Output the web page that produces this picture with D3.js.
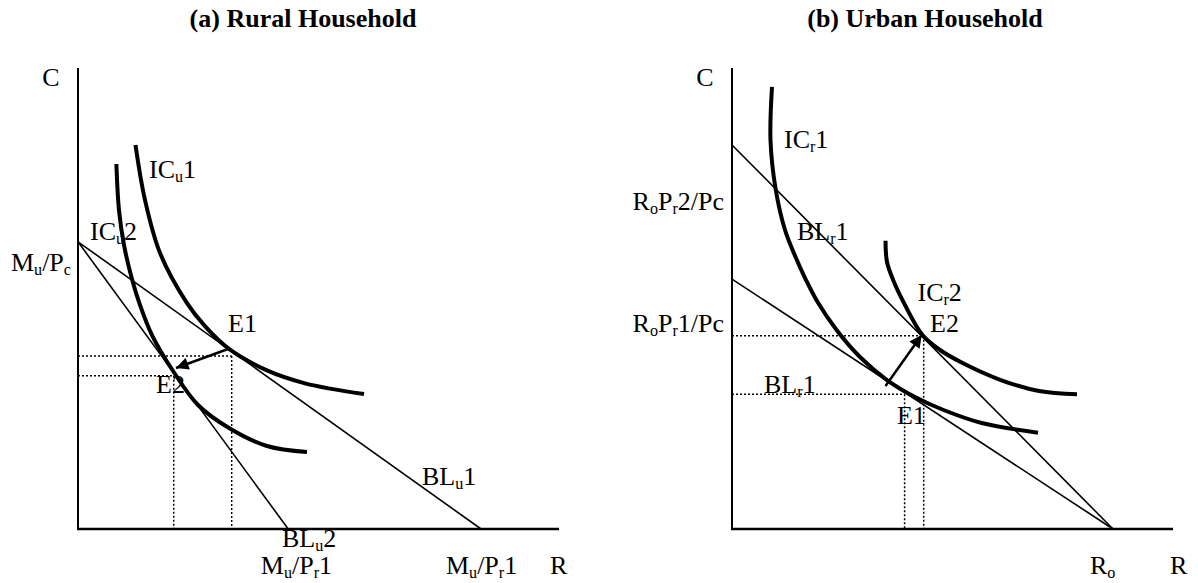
<!DOCTYPE html>
<html>
<head>
<meta charset="utf-8">
<script src="https://cdn.jsdelivr.net/npm/d3@7"></script>
<style>
  html, body { margin: 0; padding: 0; background: #fff; }
  svg text { font-family: "Liberation Serif", "Times New Roman", serif; fill: #000; }
</style>
</head>
<body>
<svg id="chart" width="1198" height="583"></svg>
<script>
// ---------------- DATA (data units, both axes 0..10) ----------------
const panelTitles = ["(a) Rural Household", "(b) Urban Household"];

// Panel (a): budget lines (C-intercept, R-intercept)
const ruralBudgetLines = [
  { name: "BLu1", c0: 6.23, r0: 8.38 },
  { name: "BLu2", c0: 6.23, r0: 4.37 }
];
// Panel (a): indifference curves
const ruralIC1 = [[1.195,8.33],[1.393,7.137],[1.705,5.987],[2.266,4.90],[2.640,4.40],[3.139,3.905],[3.929,3.44],[4.719,3.16],[5.946,2.928]];
const ruralIC2 = [[0.798,7.918],[0.852,6.920],[0.956,6.161],[1.116,5.445],[1.289,4.859],[1.538,4.208],[1.990,3.406],[2.495,2.690],[3.139,2.191],[3.929,1.800],[4.761,1.670]];
// Panel (a): equilibrium points (for dotted guides) and shift arrow
const ruralEquilibria = [[3.195,3.753],[1.990,3.325]];
const ruralArrow = [[3.119,3.905],[2.037,3.492]];

// Panel (b)
const urbanBudgetLines = [
  { name: "BLr2", c0: 8.33, r0: 8.64 },
  { name: "BLr1", c0: 5.42, r0: 8.64 }
];
const urbanIC1 = [[0.907,9.588],[0.873,8.438],[0.989,7.375],[1.202,6.486],[1.451,5.879],[1.678,5.401],[1.941,4.924],[2.372,4.317],[2.902,3.731],[3.515,3.232],[4.150,2.863],[4.796,2.581],[5.662,2.299],[6.939,2.089]];
const urbanIC2 = [[3.481,6.254],[3.515,5.792],[3.673,5.358],[3.923,4.859],[4.320,4.208],[4.717,3.883],[5.229,3.601],[6.095,3.232],[6.961,2.993],[7.823,2.922]];
const urbanEquilibria = [[4.347,4.193],[3.914,2.922]];
const urbanArrow = [[3.481,3.102],[4.302,4.208]];

// Text labels: parts [text, isSub], anchor, position in data units
const ruralLabels = [
  { parts: [["C",0]], at: [-0.561, 9.61], anchor: "middle" },
  { parts: [["M",0],["u",1],["/P",0],["c",1]], at: [-0.146, 5.597], anchor: "end" },
  { parts: [["IC",0],["u",1],["1",0]], at: [1.476, 7.614], anchor: "start" },
  { parts: [["IC",0],["u",1],["2",0]], at: [0.249, 6.269], anchor: "start" },
  { parts: [["E1",0]], at: [3.119, 4.273], anchor: "start" },
  { parts: [["E2",0]], at: [1.622, 2.950], anchor: "start" },
  { parts: [["BL",0],["u",1],["1",0]], at: [7.152, 0.954], anchor: "start" },
  { parts: [["BL",0],["u",1],["2",0]], at: [4.241, -0.39], anchor: "start" },
  { parts: [["M",0],["u",1],["/P",0],["r",1],["1",0]], at: [3.80, -0.98], anchor: "start" },
  { parts: [["M",0],["u",1],["/P",0],["r",1],["1",0]], at: [7.65, -0.98], anchor: "start" },
  { parts: [["R",0]], at: [9.813, -0.98], anchor: "start" }
];
const urbanLabels = [
  { parts: [["C",0]], at: [-0.612, 9.61], anchor: "middle" },
  { parts: [["R",0],["o",1],["P",0],["r",1],["2/Pc",0]], at: [-0.181, 6.920], anchor: "end" },
  { parts: [["R",0],["o",1],["P",0],["r",1],["1/Pc",0]], at: [-0.181, 4.273], anchor: "end" },
  { parts: [["IC",0],["r",1],["1",0]], at: [1.179, 8.265], anchor: "start" },
  { parts: [["BL",0],["r",1],["1",0]], at: [1.474, 6.269], anchor: "start" },
  { parts: [["IC",0],["r",1],["2",0]], at: [4.206, 4.946], anchor: "start" },
  { parts: [["E2",0]], at: [4.490, 4.273], anchor: "start" },
  { parts: [["BL",0],["r",1],["1",0]], at: [0.726, 2.950], anchor: "start" },
  { parts: [["E1",0]], at: [3.741, 2.278], anchor: "start" },
  { parts: [["R",0],["o",1]], at: [8.118, -0.98], anchor: "start" },
  { parts: [["R",0]], at: [9.932, -0.98], anchor: "start" }
];

// ---------------- DRAWING ----------------
const svg = d3.select("#chart");
const FONT = 26;
const SUB_DY = 4;

svg.append("defs").append("marker")
  .attr("id", "arrowhead")
  .attr("viewBox", "0 0 10 10")
  .attr("refX", 10).attr("refY", 5)
  .attr("markerWidth", 6.5).attr("markerHeight", 5)
  .attr("markerUnits", "strokeWidth")
  .attr("orient", "auto")
  .append("path").attr("d", "M0,0 L10,5 L0,10 z").attr("fill", "#000");

const panels = [
  { title: panelTitles[0], titleX: 303, xr: [78, 559], yr: [529, 68],
    budgets: ruralBudgetLines, ics: [ruralIC1, ruralIC2], eq: ruralEquilibria, arrow: ruralArrow, labels: ruralLabels },
  { title: panelTitles[1], titleX: 925, xr: [732, 1173], yr: [529, 68],
    budgets: urbanBudgetLines, ics: [urbanIC1, urbanIC2], eq: urbanEquilibria, arrow: urbanArrow, labels: urbanLabels }
];

panels.forEach(p => {
  const x = d3.scaleLinear().domain([0, 10]).range(p.xr);
  const y = d3.scaleLinear().domain([0, 10]).range(p.yr);
  const g = svg.append("g");

  // title
  g.append("text").attr("x", p.titleX).attr("y", 27)
    .attr("text-anchor", "middle").attr("font-weight", "bold")
    .attr("font-size", 26).text(p.title);

  // axes
  g.append("line").attr("x1", x(0)).attr("y1", y(10)).attr("x2", x(0)).attr("y2", y(0))
    .attr("stroke", "#000").attr("stroke-width", 2);
  g.append("line").attr("x1", x(0) - 1).attr("y1", y(0)).attr("x2", x(10)).attr("y2", y(0))
    .attr("stroke", "#000").attr("stroke-width", 2.5);

  // dotted guides
  p.eq.forEach(([ex, ey]) => {
    g.append("line").attr("x1", x(0)).attr("y1", y(ey)).attr("x2", x(ex)).attr("y2", y(ey))
      .attr("stroke", "#000").attr("stroke-width", 1.5).attr("stroke-dasharray", "2,2");
    g.append("line").attr("x1", x(ex)).attr("y1", y(ey)).attr("x2", x(ex)).attr("y2", y(0))
      .attr("stroke", "#000").attr("stroke-width", 1.5).attr("stroke-dasharray", "2,2");
  });

  // budget lines
  p.budgets.forEach(b => {
    g.append("line").attr("x1", x(0)).attr("y1", y(b.c0)).attr("x2", x(b.r0)).attr("y2", y(0))
      .attr("stroke", "#000").attr("stroke-width", 1.6);
  });

  // indifference curves
  const line = d3.line().x(d => x(d[0])).y(d => y(d[1])).curve(d3.curveCatmullRom.alpha(0.5));
  p.ics.forEach(ic => {
    g.append("path").attr("d", line(ic)).attr("fill", "none")
      .attr("stroke", "#000").attr("stroke-width", 4).attr("stroke-linecap", "butt");
  });

  // arrow
  g.append("line")
    .attr("x1", x(p.arrow[0][0])).attr("y1", y(p.arrow[0][1]))
    .attr("x2", x(p.arrow[1][0])).attr("y2", y(p.arrow[1][1]))
    .attr("stroke", "#000").attr("stroke-width", 2.5)
    .attr("marker-end", "url(#arrowhead)");

  // labels
  p.labels.forEach(l => {
    const t = g.append("text").attr("x", x(l.at[0])).attr("y", y(l.at[1]))
      .attr("text-anchor", l.anchor).attr("font-size", FONT);
    let sub = false;
    l.parts.forEach(([s, isSub]) => {
      const ts = t.append("tspan").text(s);
      if (isSub) ts.attr("font-size", FONT * 0.62);
      if (isSub && !sub) { ts.attr("dy", SUB_DY); sub = true; }
      else if (!isSub && sub) { ts.attr("dy", -SUB_DY); sub = false; }
    });
  });
});
</script>
</body>
</html>
